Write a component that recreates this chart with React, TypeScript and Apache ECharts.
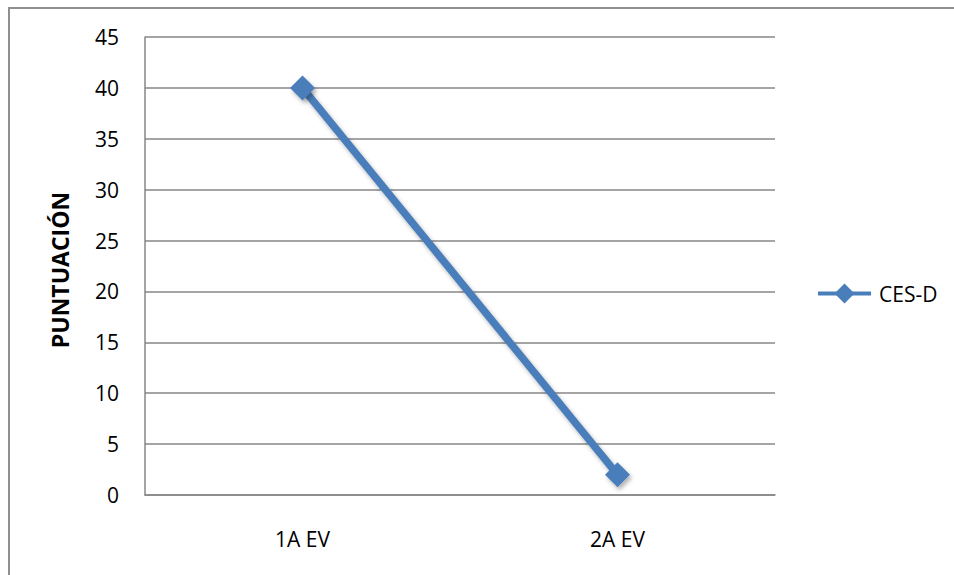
import React, { useEffect, useRef } from "react";
import * as echarts from "echarts";

// Puntuación CES-D en cada evaluación
const categories: string[] = ["1A EV", "2A EV"];
const cesdValues: number[] = [40, 2];
const seriesName = "CES-D";
const yAxisTitle = "PUNTUACIÓN";

const FONT = "'Open Sans', 'Noto Sans', sans-serif";
const BLUE = "#4a7ebb";
const GRID_GRAY = "#878787";

export default function App() {
  const ref = useRef<HTMLDivElement>(null);

  useEffect(() => {
    if (!ref.current) return;
    const chart = echarts.init(ref.current, undefined, { renderer: "svg" });
    chart.setOption({
      animation: false,
      backgroundColor: "#ffffff",
      textStyle: { fontFamily: FONT },
      grid: { left: 145, top: 37, right: 179, bottom: 80, containLabel: false },
      graphic: [
        {
          type: "rect",
          shape: { x: 9, y: 8, width: 980, height: 620 },
          style: { fill: "none", stroke: "#8f8f8f", lineWidth: 2 },
          silent: true,
          z: -1,
        },
        {
          type: "text",
          x: 60,
          y: 270,
          rotation: Math.PI / 2,
          style: {
            text: yAxisTitle,
            fontFamily: FONT,
            fontSize: 23,
            fontWeight: "bold",
            fill: "#000000",
            align: "center",
            verticalAlign: "middle",
          },
        },
      ],
      legend: {
        left: 816,
        top: 283,
        padding: 0,
        orient: "vertical",
        itemWidth: 53,
        itemHeight: 25,
        itemGap: 10,
        data: [seriesName],
        lineStyle: { width: 4 },
        textStyle: { fontFamily: FONT, fontSize: 21, color: "#000000", padding: [0, 0, 0, 3] },
      },
      xAxis: {
        type: "category",
        data: categories,
        boundaryGap: true,
        axisLine: { show: true, lineStyle: { color: GRID_GRAY, width: 1.5 } },
        axisTick: { show: false },
        axisLabel: { fontFamily: FONT, fontSize: 21, color: "#000000", margin: 33 },
        splitLine: { show: false },
      },
      yAxis: {
        type: "value",
        min: 0,
        max: 45,
        interval: 5,
        axisLine: { show: true, lineStyle: { color: GRID_GRAY, width: 1.5 } },
        axisTick: { show: false },
        axisLabel: { fontFamily: FONT, fontSize: 21, color: "#000000", margin: 26 },
        splitLine: { show: true, lineStyle: { color: GRID_GRAY, width: 1.5 } },
      },
      series: [
        {
          name: seriesName,
          type: "line",
          data: cesdValues,
          symbol: "diamond",
          symbolSize: 25,
          color: BLUE,
          lineStyle: {
            color: BLUE,
            width: 7.5,
            shadowColor: "rgba(0,0,0,0.3)",
            shadowBlur: 4,
            shadowOffsetX: 2,
            shadowOffsetY: 3,
          },
          itemStyle: {
            color: BLUE,
            shadowColor: "rgba(0,0,0,0.3)",
            shadowBlur: 4,
            shadowOffsetX: 2,
            shadowOffsetY: 3,
          },
        },
      ],
    });
    return () => chart.dispose();
  }, []);

  return (
    <div
      ref={ref}
      style={{ position: "fixed", left: 0, top: 0, width: 954, height: 575, background: "#fff" }}
    />
  );
}
